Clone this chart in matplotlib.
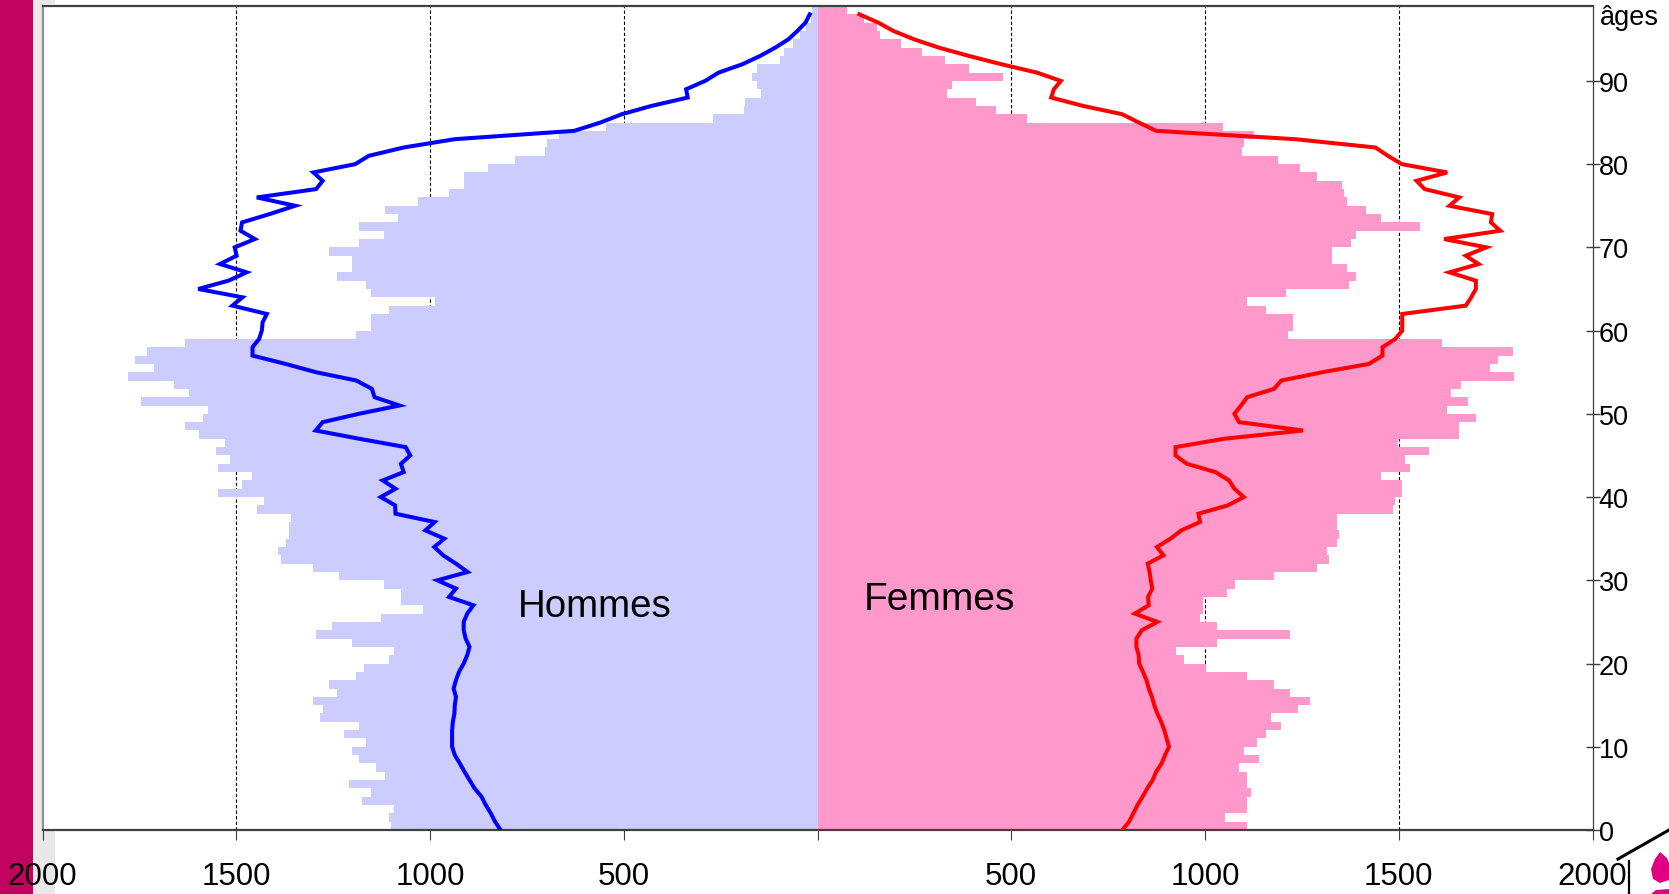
import matplotlib
matplotlib.use('Agg')
import matplotlib.pyplot as plt
import numpy as np
from matplotlib.patches import Polygon, Rectangle
from matplotlib.lines import Line2D

plt.rcParams['font.family'] = ['Liberation Sans', 'DejaVu Sans']

# ages 0 to 98, one value per age
hommes_barres = [
    1100, 1105, 1094, 1175, 1153, 1208, 1115, 1139, 1183, 1202,
    1164, 1223, 1184, 1284, 1277, 1303, 1240, 1260, 1190, 1171,
    1105, 1094, 1202, 1294, 1253, 1127, 1019, 1075, 1075, 1120,
    1234, 1303, 1385, 1391, 1372, 1365, 1365, 1359, 1447, 1429,
    1548, 1484, 1460, 1548, 1516, 1553, 1530, 1597, 1631, 1585,
    1574, 1745, 1623, 1661, 1780, 1713, 1762, 1731, 1631, 1190,
    1153, 1153, 1107, 988, 1153, 1164, 1240, 1202, 1202, 1260,
    1184, 1120, 1184, 1083, 1115, 1031, 952, 911, 911, 851,
    781, 704, 699, 668, 546, 270, 189, 186, 146, 156,
    169, 157, 96, 87, 64, 46, 29, 18, 15]

femmes_barres = [
    1109, 1051, 1109, 1109, 1119, 1109, 1109, 1088, 1140, 1101,
    1133, 1157, 1197, 1170, 1240, 1272, 1219, 1178, 1109, 1002,
    946, 925, 1031, 1219, 1031, 987, 994, 994, 1057, 1078,
    1178, 1289, 1320, 1316, 1341, 1346, 1341, 1341, 1485, 1491,
    1509, 1509, 1454, 1529, 1516, 1578, 1498, 1656, 1656, 1700,
    1625, 1679, 1635, 1660, 1798, 1735, 1757, 1795, 1612, 1215,
    1228, 1228, 1157, 1109, 1209, 1372, 1390, 1366, 1328, 1328,
    1378, 1390, 1554, 1454, 1416, 1366, 1359, 1354, 1289, 1245,
    1188, 1096, 1101, 1126, 1047, 541, 461, 409, 334, 347,
    478, 391, 328, 269, 215, 160, 153, 120, 77]

hommes_ligne = [
    818, 832, 843, 856, 867, 885, 898, 911, 923, 936,
    943, 943, 943, 941, 937, 936, 933, 939, 933, 925,
    913, 904, 898, 908, 913, 913, 904, 888, 951, 933,
    981, 903, 933, 966, 989, 963, 1012, 988, 1089, 1090,
    1127, 1089, 1122, 1068, 1075, 1051, 1063, 1182, 1295, 1277,
    1184, 1079, 1143, 1150, 1190, 1294, 1373, 1458, 1458, 1441,
    1434, 1432, 1421, 1510, 1484, 1598, 1520, 1473, 1542, 1499,
    1504, 1452, 1489, 1485, 1414, 1348, 1447, 1294, 1277, 1301,
    1193, 1158, 1068, 936, 628, 560, 505, 428, 335, 339,
    290, 255, 194, 148, 109, 75, 52, 31, 20]

femmes_ligne = [
    787, 804, 815, 826, 839, 851, 865, 874, 888, 897,
    907, 901, 895, 887, 877, 869, 863, 855, 849, 840,
    830, 829, 823, 823, 837, 877, 819, 855, 853, 864,
    860, 857, 852, 893, 876, 911, 939, 987, 983, 1059,
    1100, 1076, 1062, 1027, 953, 924, 924, 1048, 1253, 1088,
    1076, 1093, 1109, 1178, 1197, 1303, 1423, 1458, 1458, 1491,
    1509, 1509, 1509, 1673, 1687, 1699, 1699, 1631, 1706, 1673,
    1726, 1617, 1762, 1738, 1741, 1631, 1656, 1567, 1546, 1625,
    1508, 1472, 1440, 1232, 874, 829, 786, 685, 603, 610,
    628, 566, 475, 391, 313, 249, 196, 157, 108]

x_ticks = [-2000, -1500, -1000, -500, 0, 500, 1000, 1500, 2000]
x_labels = ['2000', '1500', '1000', '500', '', '500', '1000', '1500', '2000']
y_ticks = [0, 10, 20, 30, 40, 50, 60, 70, 80, 90]

W, H = 1669, 895
fig = plt.figure(figsize=(W / 100, H / 100), dpi=100)
ax = fig.add_axes([42.5 / W, (H - 831) / H, 1550 / W, 824 / H], zorder=2)

ages = np.arange(len(hommes_barres))

# dashed grid sits behind the bars
for v in [-1500, -1000, -500, 500, 1000, 1500]:
    ax.axvline(v, color='black', lw=0.8, ls=(0, (3, 2)), zorder=1)

ax.barh(ages, -np.array(hommes_barres), height=1, align='edge',
        color='#CCCCFF', linewidth=0, antialiased=False, zorder=2)
ax.barh(ages, femmes_barres, height=1, align='edge',
        color='#FF99CC', linewidth=0, antialiased=False, zorder=2)

ax.plot(-np.array(hommes_ligne), ages, color='#0000FF', lw=2.9,
        solid_joinstyle='miter', zorder=3)
ax.plot(femmes_ligne, ages, color='#FF0000', lw=2.9,
        solid_joinstyle='miter', zorder=3)

ax.set_xlim(-2000, 2000)
ax.set_ylim(0, 99)

ax.set_xticks(x_ticks)
ax.set_xticklabels(x_labels, fontsize=22.5)
ax.tick_params(axis='x', direction='out', length=7.5, width=0.8,
               color='#404040', pad=15)

ax.yaxis.tick_right()
ax.set_yticks(y_ticks)
ax.tick_params(axis='y', direction='inout', length=10, width=1,
               color='#404040', labelsize=19.5, pad=-0.5)
fig.text(1600 / W, 1 - 18 / H, 'âges', fontsize=19.5, va='center', ha='left')

ax.text(-773, 26.9, 'Hommes', fontsize=27.7, va='center', ha='left', zorder=4)
ax.text(120, 27.8, 'Femmes', fontsize=28, va='center', ha='left', zorder=4)

for side in ['top', 'bottom']:
    ax.spines[side].set_color('#404040')
    ax.spines[side].set_linewidth(1.6)
ax.spines['left'].set_color('#909090')
ax.spines['left'].set_linewidth(1.6)
ax.spines['right'].set_color('#404040')
ax.spines['right'].set_linewidth(0.9)

# crimson band and light strip on the left edge
fig.patches.append(Rectangle((0, 0), 33 / W, 1, transform=fig.transFigure,
                             facecolor='#C0045F', edgecolor='none', zorder=1))
fig.patches.append(Rectangle((33 / W, 0), 10 / W, 1, transform=fig.transFigure,
                             facecolor='#E8E8E8', edgecolor='none', zorder=1))
fig.patches.append(Rectangle((33 / W, 0), 22 / W, (H - 831) / H, transform=fig.transFigure,
                             facecolor='#E8E8E8', edgecolor='none', zorder=1))
fig.patches.append(Rectangle((33 / W, 1 - 5 / H), 22 / W, 5 / H, transform=fig.transFigure,
                             facecolor='#E8E8E8', edgecolor='none', zorder=1))

# logo cut off in the bottom right corner
def px(x, y):
    return x / W, 1 - y / H

fig.add_artist(Line2D(*zip(px(1618, 860), px(1669, 831)), color='black', lw=2.2))
fig.add_artist(Line2D(*zip(px(1629, 862), px(1629, 895)), color='black', lw=1.6))
flame = [px(1660, 853), px(1667, 859), px(1669, 864), px(1669, 881), px(1660, 884),
         px(1653, 880), px(1651, 870), px(1655, 860)]
fig.add_artist(Polygon(flame, closed=True, transform=fig.transFigure,
                       facecolor='#E0007F', edgecolor='none'))
flame2 = [px(1651, 895), px(1656, 891), px(1669, 890), px(1669, 895)]
fig.add_artist(Polygon(flame2, closed=True, transform=fig.transFigure,
                       facecolor='#E0007F', edgecolor='none'))

fig.savefig('out.png', dpi=100)
